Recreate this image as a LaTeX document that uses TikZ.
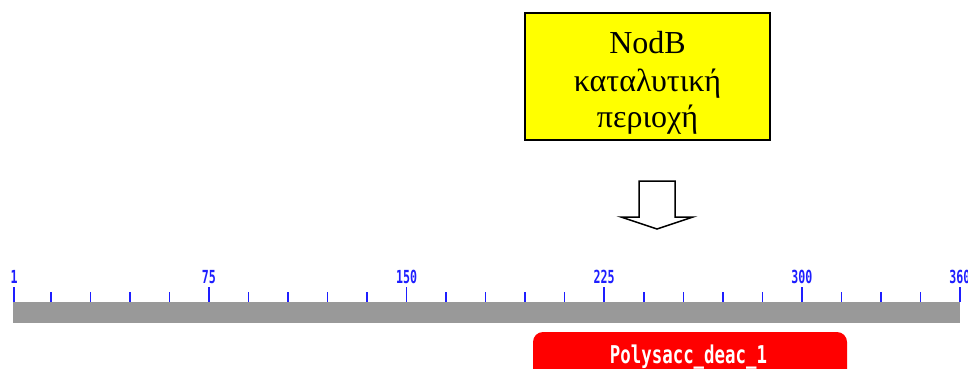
\documentclass[tikz,border=0pt]{standalone}
\usepackage{fontspec}
\setmainfont{Liberation Serif}
\newfontfamily\rulerfont{DejaVu Sans Mono}
\definecolor{rulerblue}{RGB}{30,30,255}
\definecolor{trackgray}{RGB}{153,153,153}
\definecolor{domainred}{RGB}{255,0,0}
\definecolor{boxyellow}{RGB}{255,255,0}
\tikzset{
  calloutbox/.style={draw=black, fill=boxyellow, line width=1.8pt,
    minimum width=245pt, minimum height=127pt, inner sep=0pt, outer sep=0pt},
  callouttext/.style={font=\fontsize{32}{37}\selectfont, anchor=base, inner sep=0pt},
  blockarrow/.style={draw=black, fill=white, line width=1.5pt, line join=miter},
  trackbar/.style={fill=trackgray, draw=none, minimum width=947pt,
    minimum height=21pt, inner sep=0pt, outer sep=0pt},
  minortick/.style={draw=rulerblue, line width=1.5pt},
  majortick/.style={draw=rulerblue, line width=1.7pt},
  ticklabel/.style={text=rulerblue, font=\rulerfont\bfseries\fontsize{18}{20}\selectfont,
    anchor=base, inner sep=0pt},
  domainbox/.style={fill=domainred, draw=none, rounded corners=10pt,
    minimum width=314pt, minimum height=60pt, inner sep=0pt, outer sep=0pt},
  domainlabel/.style={text=white, font=\rulerfont\bfseries\fontsize{24.5}{26}\selectfont,
    anchor=base, inner sep=0pt}
}
\begin{document}
\begin{tikzpicture}[x=1pt, y=-1pt]
  \useasboundingbox (0,0) rectangle (968,369);
  \clip (0,0) rectangle (968,369);

  % callout with the name of the catalytic region
  \node[calloutbox] (callout) at (647.5,76.5) {};
  \node[callouttext] (calloutA) at (647.5,53.5) {NodB};
  \node[callouttext] (calloutB) at (647.5,91) {καταλυτική};
  \node[callouttext] (calloutC) at (647.5,127.5) {περιοχή};

  % hollow block arrow pointing down to the sequence track
  \draw[blockarrow] (639,181) -- (675,181) -- (675,217) -- (693,217)
    -- (657,229) -- (621,217) -- (639,217) -- cycle;

  % sequence track, residues 1..360
  \node[trackbar] (track) at (486.5,312.5) {};

  % ruler: x = 14 + (residue-1)*2.635
  \foreach \v in {15,30,...,345}{
    \pgfmathsetmacro{\px}{14+(\v-1)*2.635}
    \draw[minortick] (\px,292) -- (\px,302);
  }
  \foreach \v in {1,75,150,225,300,360}{
    \pgfmathsetmacro{\px}{14+(\v-1)*2.635}
    \draw[majortick] (\px,287) -- (\px,302);
    \node[ticklabel] (lab\v) at (\px,283) {\scalebox{0.646}[1]{\v}};
  }

  % Pfam domain
  \node[domainbox] (domain) at (690,362) {};
  \node[domainlabel] (domainname) at (688.5,363) {\scalebox{0.71}[1]{Polysacc\_deac\_1}};
\end{tikzpicture}
\end{document}
